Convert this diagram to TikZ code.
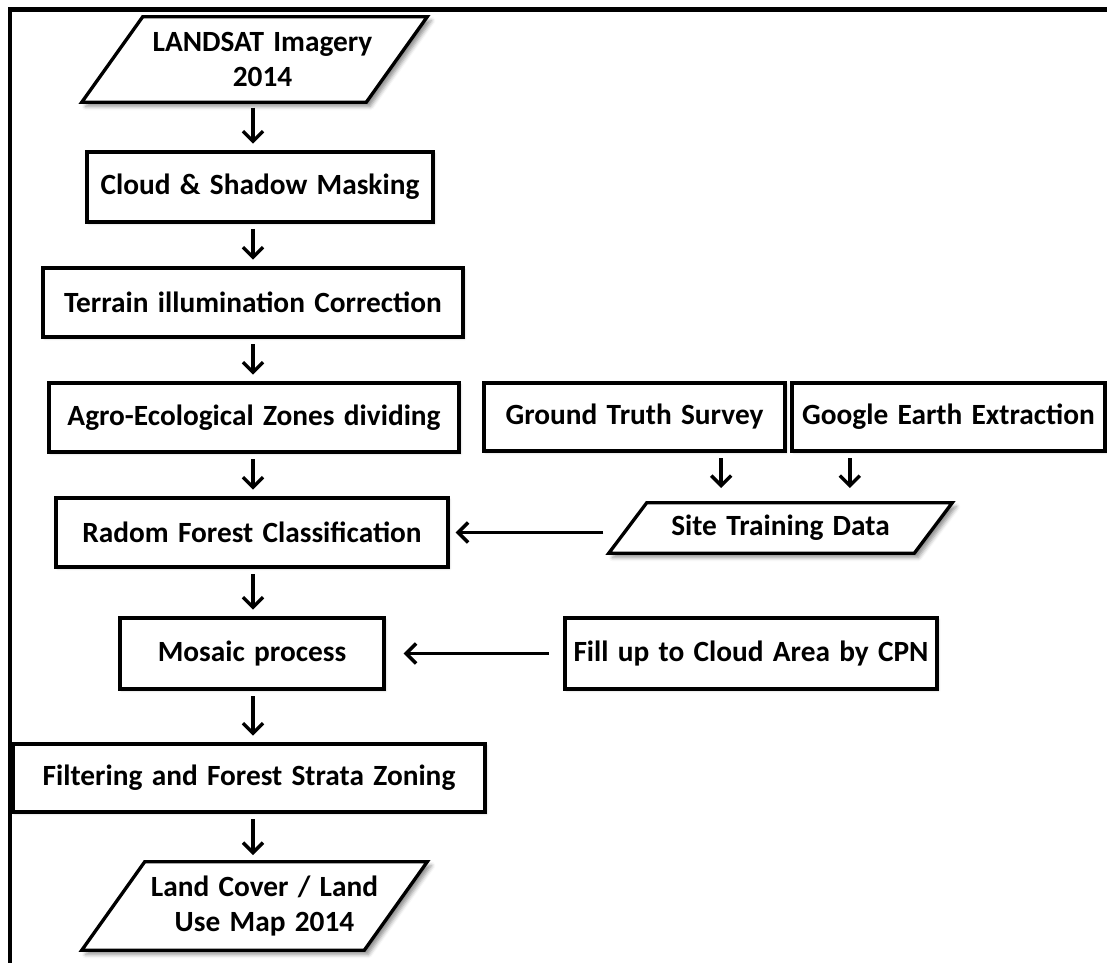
\documentclass[tikz,border=0pt]{standalone}
\usepackage{fontspec}
\setmainfont{Carlito}[WordSpace={1.4,0.4,0.2}]
\usetikzlibrary{arrows.meta,shadows.blur,backgrounds}

\begin{document}
\begin{tikzpicture}[x=0.75pt,y=0.75pt,yscale=-1,xscale=1,
  txt/.style={inner sep=0pt, align=center, font=\bfseries\fontsize{22}{26}\selectfont},
  box/.style={txt, draw, line width=2.5pt, fill=white,
    blur shadow={shadow xshift=1.2pt, shadow yshift=-1.2pt, shadow blur radius=1.5pt, shadow opacity=30}},
  slanted/.style={draw, line width=2.5pt, fill=white, line join=miter,
    blur shadow={shadow xshift=3pt, shadow yshift=-3pt, shadow blur radius=3pt, shadow opacity=45}},
  flow/.style={line width=2.6pt, -{Straight Barb[length=7.5pt,width=15pt]}, shorten <=4pt, shorten >=5pt}]
\path [use as bounding box] (0,0) rectangle (1107,963);

%Straight Lines
\draw [line width=3.6pt] (10,963) -- (10,9.5) -- (1107,9.5);

\coordinate (spine) at (253,0);

% Text Node
\node [txt, minimum width=258.75pt, minimum height=63.75pt] (landsat) at (254.5,59.5) {\hspace{12pt}LANDSAT Imagery\\\hspace{12pt}2014};
%Shape: Rectangle
\node [box, minimum width=259.5pt, minimum height=52.5pt] (cloud) at (260,187) {Cloud \& Shadow Masking};
%Shape: Rectangle
\node [box, minimum width=315pt, minimum height=51.75pt] (terrain) at (253,302.5) {Terrain illumination Correction};
%Shape: Rectangle
\node [box, minimum width=307.5pt, minimum height=51.75pt] (agro) at (254,417.5) {Agro-Ecological Zones dividing};
%Shape: Rectangle
\node [box, minimum width=294pt, minimum height=51.75pt] (radom) at (252,532.5) {Radom Forest Classification};
%Shape: Rectangle
\node [box, minimum width=198pt, minimum height=53.25pt] (mosaic) at (252,653.5) {Mosaic process};
%Shape: Rectangle
\node [box, minimum width=354pt, minimum height=51pt] (filter) at (249,778) {Filtering and Forest Strata Zoning};
% Text Node
\node [txt, minimum width=258.75pt, minimum height=66pt] (landuse) at (254.5,906) {\hspace{15pt}Land Cover / Land\\\hspace{15pt}Use Map 2014};

%Shape: Rectangle
\node [box, minimum width=225.75pt, minimum height=51pt] (ground) at (634.5,417) {Ground Truth Survey};
%Shape: Rectangle
\node [box, minimum width=234.75pt, minimum height=51pt] (google) at (948.5,417) {Google Earth Extraction};
% Text Node
\node [txt, minimum width=257.25pt, minimum height=37.5pt] (site) at (780.5,528) {Site Training Data};
%Shape: Rectangle
\node [box, minimum width=279pt, minimum height=53.25pt] (fill) at (751,653.5) {Fill up to Cloud Area by CPN};

%Shape: Parallelogram
\begin{scope}[on background layer]
\draw [slanted] (landsat.south west) -- ([xshift=45.75pt]landsat.north west) -- (landsat.north east) -- ([xshift=-45.75pt]landsat.south east) -- cycle;
\draw [slanted] (landuse.south west) -- ([xshift=47.25pt]landuse.north west) -- (landuse.north east) -- ([xshift=-47.25pt]landuse.south east) -- cycle;
\draw [slanted] (site.south west) -- ([xshift=28.5pt]site.north west) -- (site.north east) -- ([xshift=-28.5pt]site.south east) -- cycle;
\end{scope}

%Straight Lines
\draw [flow] (landsat.south -| spine) -- (cloud.north -| spine);
\draw [flow] (cloud.south -| spine) -- (terrain.north -| spine);
\draw [flow] (terrain.south -| spine) -- (agro.north -| spine);
\draw [flow] (agro.south -| spine) -- (radom.north -| spine);
\draw [flow] (radom.south -| spine) -- (mosaic.north -| spine);
\draw [flow] (mosaic.south -| spine) -- (filter.north -| spine);
\draw [flow] (filter.south -| spine) -- (landuse.north -| spine);
%Straight Lines
\draw [flow, shorten >=11pt] ([xshift=65pt]ground.south) -- ([xshift=65pt]ground.south |- site.north);
\draw [flow, shorten >=11pt] ([xshift=-74pt]google.south) -- ([xshift=-74pt]google.south |- site.north);
%Straight Lines
\draw [flow, shorten >=4.5pt] (site.south west |- radom.east) -- (radom.east);
\draw [flow, shorten <=11pt, shorten >=13.5pt] (fill.west) -- (mosaic.east);

\end{tikzpicture}
\end{document}
